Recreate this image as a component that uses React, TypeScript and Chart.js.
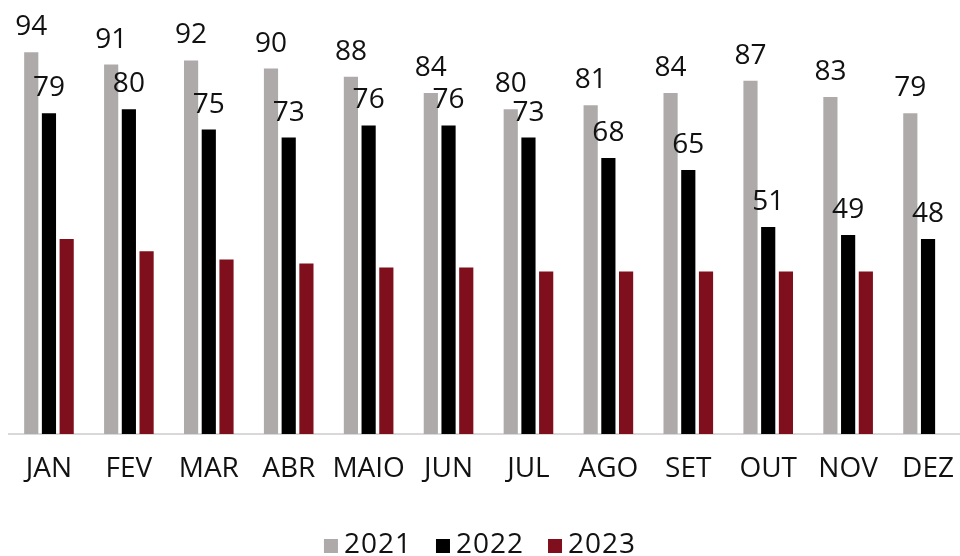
import React, { useEffect, useRef } from "react";
import { Chart, registerables } from "chart.js";

Chart.register(...registerables);

const categories = ["JAN", "FEV", "MAR", "ABR", "MAIO", "JUN", "JUL", "AGO", "SET", "OUT", "NOV", "DEZ"];
const series2021 = [94, 91, 92, 90, 88, 84, 80, 81, 84, 87, 83, 79];
const series2022 = [79, 80, 75, 73, 76, 76, 73, 68, 65, 51, 49, 48];
const series2023: (number | null)[] = [48, 45, 43, 42, 41, 41, 40, 40, 40, 40, 40, null];
const seriesNames = ["2021", "2022", "2023"];
const seriesColors = ["#AEAAAA", "#000000", "#7F0F1C"];
const labeledSeries = [0, 1];

const FONT = "'Open Sans', sans-serif";
const TEXT = "#111111";

const labelPlugin = {
  id: "valueLabels",
  afterDatasetsDraw(chart: any) {
    const ctx = chart.ctx;
    ctx.save();
    ctx.font = `28px ${FONT}`;
    ctx.fillStyle = TEXT;
    ctx.textAlign = "center";
    ctx.textBaseline = "alphabetic";
    labeledSeries.forEach((di) => {
      const meta = chart.getDatasetMeta(di);
      meta.data.forEach((bar: any, i: number) => {
        const v = chart.data.datasets[di].data[i];
        if (v == null) return;
        ctx.fillText(String(v), bar.x, bar.y - 17);
      });
    });
    ctx.restore();
  },
};

// Custom legend, centred on the visible 960px page width
const legendPlugin = {
  id: "customLegend",
  afterDraw(chart: any) {
    const ctx = chart.ctx;
    ctx.save();
    ctx.font = `28px ${FONT}`;
    try {
      (ctx as any).letterSpacing = "1px";
    } catch (e) {}
    ctx.textBaseline = "alphabetic";
    ctx.textAlign = "left";
    const box = 14;
    const gapBoxText = 6;
    const gapItems = 24;
    const widths = seriesNames.map((n) => box + gapBoxText + ctx.measureText(n).width);
    const total = widths.reduce((a, b) => a + b, 0) + gapItems * (seriesNames.length - 1);
    let x = 480 - total / 2;
    const baseline = 553;
    seriesNames.forEach((n, i) => {
      ctx.fillStyle = seriesColors[i];
      ctx.fillRect(x, baseline - box, box, box);
      ctx.fillStyle = TEXT;
      ctx.fillText(n, x + box + gapBoxText, baseline);
      x += widths[i] + gapItems;
    });
    ctx.restore();
  },
};

export default function App() {
  const ref = useRef<HTMLCanvasElement>(null);
  useEffect(() => {
    if (!ref.current) return;
    const chart = new Chart(ref.current, {
      type: "bar",
      data: {
        labels: categories,
        datasets: [series2021, series2022, series2023].map((d, i) => ({
          label: seriesNames[i],
          data: d,
          backgroundColor: seriesColors[i],
          borderWidth: 0,
          categoryPercentage: 0.665,
          barPercentage: 0.8,
        })),
      },
      options: {
        animation: false,
        responsive: false,
        devicePixelRatio: 1,
        layout: { padding: { left: 9, right: 8, top: 28, bottom: 40 } },
        plugins: {
          legend: { display: false },
          tooltip: { enabled: false },
        },
        scales: {
          x: {
            grid: { display: false },
            border: { color: "#D9D9D9", width: 2 },
            ticks: { font: { family: FONT, size: 28 }, color: TEXT, padding: 10 },
            afterFit: (scale: any) => {
              scale.height = 82;
            },
          },
          y: {
            display: false,
            min: 0,
            max: 100,
          },
        },
      },
      plugins: [labelPlugin, legendPlugin],
    });
    return () => chart.destroy();
  }, []);
  return (
    <div style={{ position: "absolute", left: 0, top: 0, width: 960, height: 556, overflow: "hidden", background: "#fff" }}>
      <canvas ref={ref} width={976} height={556} style={{ display: "block" }} />
    </div>
  );
}
